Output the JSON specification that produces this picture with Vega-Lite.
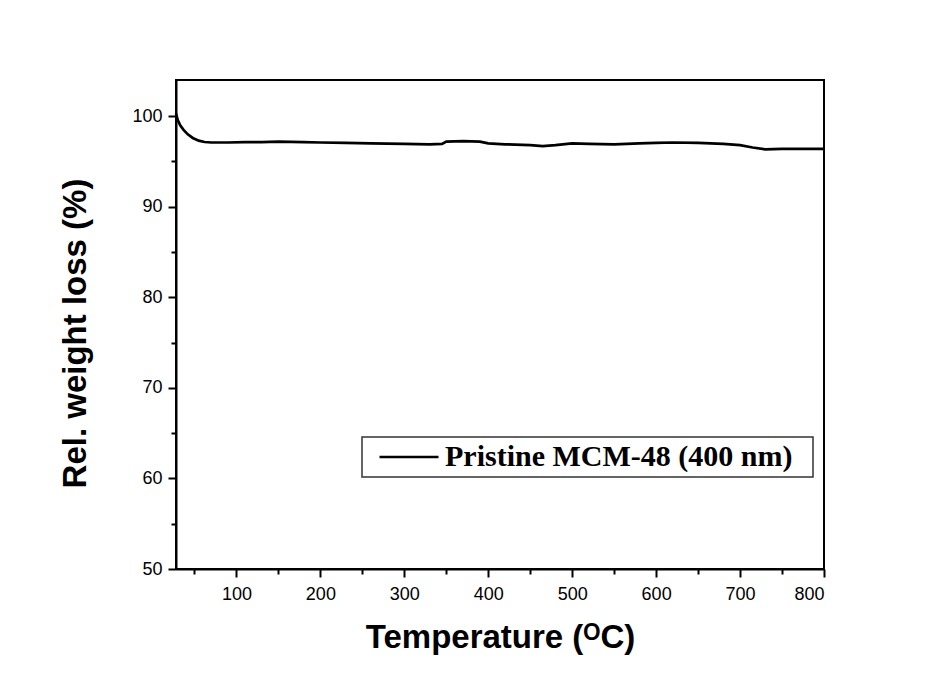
{
  "$schema": "https://vega.github.io/schema/vega-lite/v6.json",
  "width": 648,
  "height": 489,
  "autosize": {"type": "none"},
  "padding": {"left": 176, "top": 80, "right": 115, "bottom": 109},
  "background": "white",
  "config": {
    "view": {"stroke": "black", "strokeWidth": 2},
    "axis": {
      "domainColor": "black", "domainWidth": 2, "tickColor": "black", "tickWidth": 2,
      "grid": false, "labelFont": "Liberation Sans", "labelFontSize": 18, "labelColor": "black",
      "titleFont": "Liberation Sans", "titleFontWeight": "bold", "titleColor": "black"
    }
  },
  "data": {"values": [
    {"t": 28, "w": 100.3, "s": "Pristine MCM-48 (400 nm)"},
    {"t": 30, "w": 99.6, "s": "Pristine MCM-48 (400 nm)"},
    {"t": 33, "w": 99.0, "s": "Pristine MCM-48 (400 nm)"},
    {"t": 37, "w": 98.5, "s": "Pristine MCM-48 (400 nm)"},
    {"t": 42, "w": 98.0, "s": "Pristine MCM-48 (400 nm)"},
    {"t": 48, "w": 97.6, "s": "Pristine MCM-48 (400 nm)"},
    {"t": 55, "w": 97.3, "s": "Pristine MCM-48 (400 nm)"},
    {"t": 62, "w": 97.15, "s": "Pristine MCM-48 (400 nm)"},
    {"t": 70, "w": 97.1, "s": "Pristine MCM-48 (400 nm)"},
    {"t": 90, "w": 97.1, "s": "Pristine MCM-48 (400 nm)"},
    {"t": 110, "w": 97.15, "s": "Pristine MCM-48 (400 nm)"},
    {"t": 130, "w": 97.15, "s": "Pristine MCM-48 (400 nm)"},
    {"t": 150, "w": 97.2, "s": "Pristine MCM-48 (400 nm)"},
    {"t": 180, "w": 97.15, "s": "Pristine MCM-48 (400 nm)"},
    {"t": 200, "w": 97.1, "s": "Pristine MCM-48 (400 nm)"},
    {"t": 230, "w": 97.05, "s": "Pristine MCM-48 (400 nm)"},
    {"t": 260, "w": 97.0, "s": "Pristine MCM-48 (400 nm)"},
    {"t": 300, "w": 96.95, "s": "Pristine MCM-48 (400 nm)"},
    {"t": 330, "w": 96.9, "s": "Pristine MCM-48 (400 nm)"},
    {"t": 345, "w": 96.95, "s": "Pristine MCM-48 (400 nm)"},
    {"t": 350, "w": 97.2, "s": "Pristine MCM-48 (400 nm)"},
    {"t": 370, "w": 97.25, "s": "Pristine MCM-48 (400 nm)"},
    {"t": 390, "w": 97.2, "s": "Pristine MCM-48 (400 nm)"},
    {"t": 400, "w": 97.0, "s": "Pristine MCM-48 (400 nm)"},
    {"t": 420, "w": 96.9, "s": "Pristine MCM-48 (400 nm)"},
    {"t": 450, "w": 96.8, "s": "Pristine MCM-48 (400 nm)"},
    {"t": 465, "w": 96.7, "s": "Pristine MCM-48 (400 nm)"},
    {"t": 480, "w": 96.8, "s": "Pristine MCM-48 (400 nm)"},
    {"t": 500, "w": 97.0, "s": "Pristine MCM-48 (400 nm)"},
    {"t": 520, "w": 96.95, "s": "Pristine MCM-48 (400 nm)"},
    {"t": 550, "w": 96.9, "s": "Pristine MCM-48 (400 nm)"},
    {"t": 580, "w": 97.0, "s": "Pristine MCM-48 (400 nm)"},
    {"t": 600, "w": 97.05, "s": "Pristine MCM-48 (400 nm)"},
    {"t": 620, "w": 97.1, "s": "Pristine MCM-48 (400 nm)"},
    {"t": 650, "w": 97.05, "s": "Pristine MCM-48 (400 nm)"},
    {"t": 680, "w": 96.95, "s": "Pristine MCM-48 (400 nm)"},
    {"t": 700, "w": 96.8, "s": "Pristine MCM-48 (400 nm)"},
    {"t": 715, "w": 96.55, "s": "Pristine MCM-48 (400 nm)"},
    {"t": 730, "w": 96.35, "s": "Pristine MCM-48 (400 nm)"},
    {"t": 750, "w": 96.4, "s": "Pristine MCM-48 (400 nm)"},
    {"t": 800, "w": 96.4, "s": "Pristine MCM-48 (400 nm)"}
  ]},
  "resolve": {"axis": {"x": "independent", "y": "independent"}},
  "layer": [
    {
      "mark": {"type": "line", "strokeWidth": 2.7},
      "encoding": {
        "x": {"field": "t", "type": "quantitative", "scale": {"domain": [28, 800], "nice": false, "zero": false},
          "axis": {"orient": "bottom", "values": [100, 200, 300, 400, 500, 600, 700, 800], "tickSize": 8, "labelPadding": 8,
            "title": "Temperature (ᴼC)", "titleFontSize": 33, "titlePadding": 18}},
        "y": {"field": "w", "type": "quantitative", "scale": {"domain": [50, 104], "nice": false, "zero": false},
          "axis": {"orient": "left", "values": [50, 60, 70, 80, 90, 100], "tickSize": 8, "labelPadding": 6,
            "title": "Rel. weight loss (%)", "titleFontSize": 33, "titlePadding": 39, "titleY": 253}},
        "color": {"field": "s", "type": "nominal", "scale": {"range": ["black"]},
          "legend": {"title": null, "orient": "none", "legendX": 186, "legendY": 357,
            "strokeColor": "#333", "padding": 5,
            "symbolType": "M-2.95,0H2.95", "symbolSize": 400, "symbolStrokeWidth": 2.5,
            "symbolStrokeColor": "black", "symbolFillColor": "transparent",
            "labelFont": "Liberation Serif", "labelFontWeight": "bold", "labelFontSize": 30, "labelColor": "black",
            "labelLimit": 600, "symbolOffset": 27, "labelOffset": 21,
            "labelExpr": "datum.label + '\u00a0\u00a0\u200b'",
            "encode": {"legend": {"update": {"strokeWidth": {"value": 1.5}}}}}}
      }
    },
    {
      "mark": {"type": "point", "opacity": 0},
      "encoding": {
        "x": {"field": "t", "type": "quantitative",
          "axis": {"orient": "bottom", "values": [50, 150, 250, 350, 450, 550, 650, 750], "tickSize": 5, "labels": false, "domain": false, "title": null}},
        "y": {"field": "w", "type": "quantitative",
          "axis": {"orient": "left", "values": [55, 65, 75, 85, 95], "tickSize": 5, "labels": false, "domain": false, "title": null}}
      }
    }
  ]
}
